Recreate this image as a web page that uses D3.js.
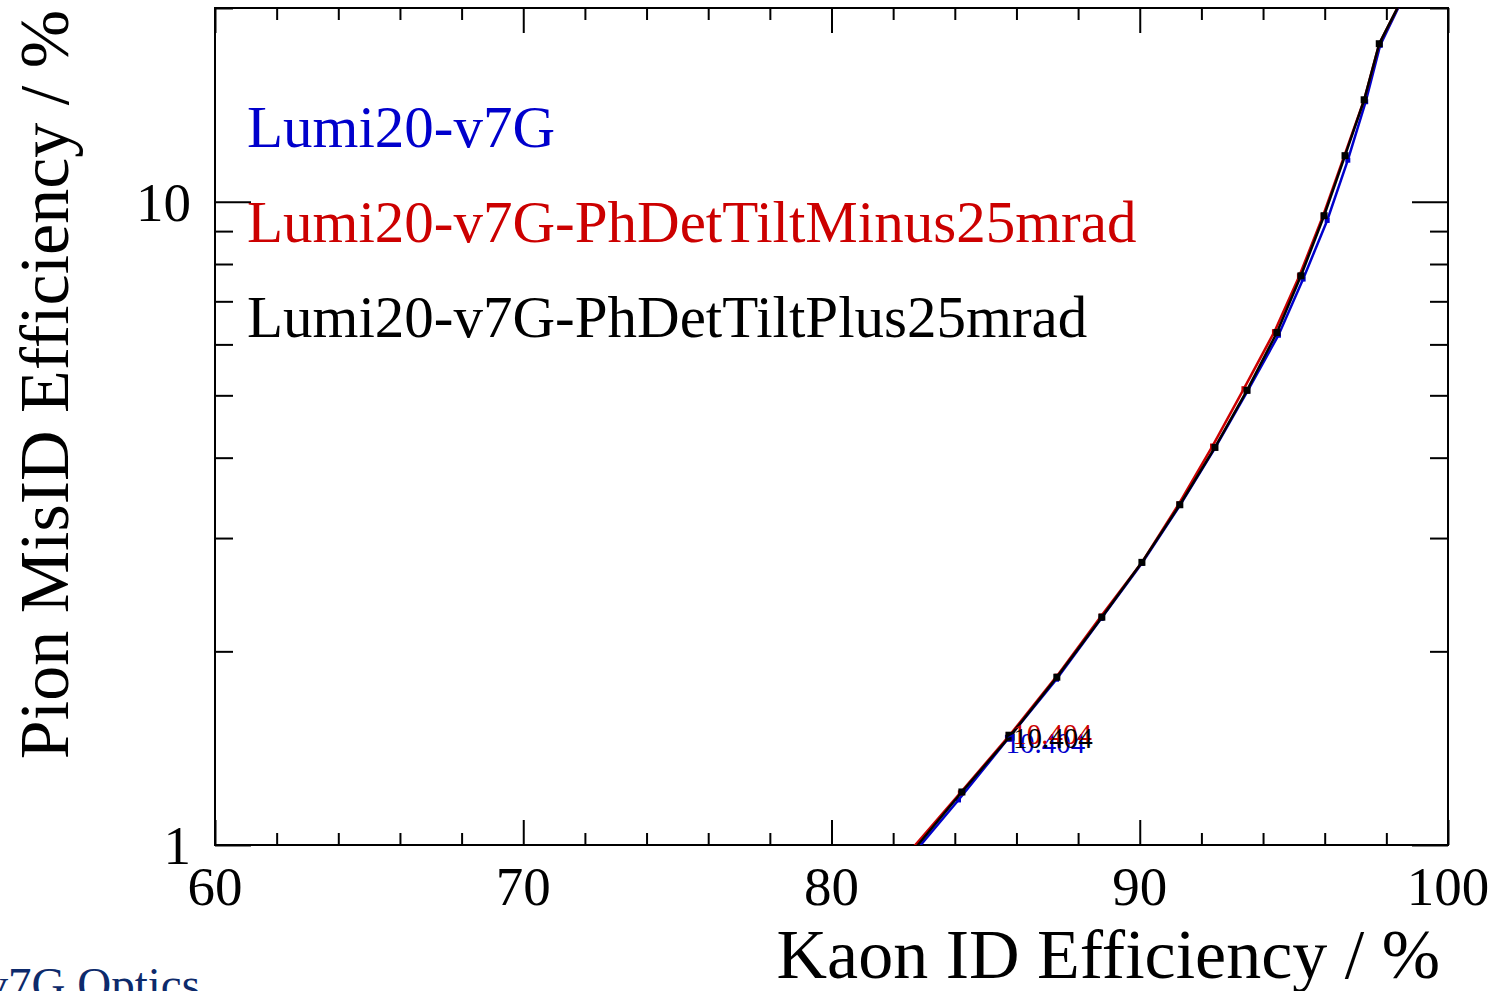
<!DOCTYPE html>
<html>
<head>
<meta charset="utf-8">
<script src="https://cdn.jsdelivr.net/npm/d3@7"></script>
<style>
  body { margin: 0; background: #fff; }
  text { font-family: "Liberation Serif", "Times New Roman", serif; }
</style>
</head>
<body>
<div id="chart"></div>
<script>
var w = 1501, h = 991;
var margin = { top: 8, right: 53, bottom: 146, left: 215 };
var width = w - margin.left - margin.right;
var height = h - margin.top - margin.bottom;

// series names + colours (ROOT kBlue+1, kRed+1, kBlack)
var seriesNames = ["Lumi20-v7G", "Lumi20-v7G-PhDetTiltMinus25mrad", "Lumi20-v7G-PhDetTiltPlus25mrad"];
var seriesColors = ["#0000cc", "#cc0000", "#000000"];

// Kaon ID efficiency (%) per cut point
var kaonBlue  = [81.0, 82.7, 84.12, 85.74, 87.30, 88.75, 90.07, 91.30, 92.44, 93.50, 94.50, 95.30, 96.08, 96.75, 97.33, 97.80, 98.80];
var kaonRed   = [80.85, 82.6, 84.18, 85.77, 87.31, 88.75, 90.07, 91.27, 92.36, 93.38, 94.37, 95.18, 95.95, 96.64, 97.28, 97.77, 98.80];
var kaonBlack = [80.9, 82.65, 84.23, 85.79, 87.31, 88.77, 90.07, 91.30, 92.44, 93.48, 94.45, 95.23, 95.98, 96.66, 97.28, 97.77, 98.80];

// Pion mis-ID efficiency (%) per cut point
var pionBlue  = [0.79, 0.975, 1.175, 1.465, 1.81, 2.25, 2.74, 3.37, 4.14, 5.08, 6.20, 7.58, 9.35, 11.6, 14.3, 17.5, 22.0];
var pionRed   = [0.80, 0.985, 1.205, 1.48, 1.83, 2.27, 2.75, 3.39, 4.17, 5.12, 6.28, 7.67, 9.52, 11.8, 14.4, 17.6, 22.0];
var pionBlack = [0.80, 0.98, 1.209, 1.476, 1.823, 2.26, 2.75, 3.38, 4.15, 5.09, 6.26, 7.67, 9.51, 11.79, 14.4, 17.6, 22.0];

// annotated cut value (index into the arrays above)
var cutLabel = "10.404";
var cutIndex = 3;

// axis ticks
var xTicks = [60, 70, 80, 90, 100];
var yTicks = [1, 10];
var yMinorTicks = [2, 3, 4, 5, 6, 7, 8, 9, 20];

var series = [
  { name: seriesNames[0], color: seriesColors[0], x: kaonBlue,  y: pionBlue,  dx: -3, dy: 15, ms: 5 },
  { name: seriesNames[1], color: seriesColors[1], x: kaonRed,   y: pionRed,   dx: 3,  dy: 9,  ms: 5 },
  { name: seriesNames[2], color: seriesColors[2], x: kaonBlack, y: pionBlack, dx: 3,  dy: 12, ms: 7 }
];

var svg = d3.select("#chart")
  .append("svg")
    .attr("width", w)
    .attr("height", h);

var g = svg.append("g")
  .attr("transform", "translate(" + margin.left + "," + margin.top + ")");

var xScale = d3.scaleLinear().domain([60, 100]).range([0, width]);
var yScale = d3.scaleLog().domain([1, 20]).range([height, 0]);

var xMinor = d3.range(62, 100, 2).filter(function(d) { return d % 10 !== 0; });

// clip for curves
svg.append("defs").append("clipPath").attr("id", "plotclip")
  .append("rect").attr("width", width).attr("height", height);

// ticks on all four sides, pointing inwards (ROOT style)
function styleAxis(sel) {
  sel.select(".domain").remove();
  sel.selectAll("line").attr("stroke", "#000").attr("stroke-width", 2);
}

g.append("g").attr("transform", "translate(0," + height + ")")
  .call(d3.axisBottom(xScale).tickValues(xTicks).tickSize(-25).tickFormat(""))
  .call(styleAxis);
g.append("g").attr("transform", "translate(0," + height + ")")
  .call(d3.axisBottom(xScale).tickValues(xMinor).tickSize(-12).tickFormat(""))
  .call(styleAxis);
g.append("g")
  .call(d3.axisTop(xScale).tickValues(xTicks).tickSize(-25).tickFormat(""))
  .call(styleAxis);
g.append("g")
  .call(d3.axisTop(xScale).tickValues(xMinor).tickSize(-12).tickFormat(""))
  .call(styleAxis);

g.append("g")
  .call(d3.axisLeft(yScale).tickValues(yTicks).tickSize(-36).tickFormat(""))
  .call(styleAxis);
g.append("g")
  .call(d3.axisLeft(yScale).tickValues(yMinorTicks).tickSize(-18).tickFormat(""))
  .call(styleAxis);
g.append("g").attr("transform", "translate(" + width + ",0)")
  .call(d3.axisRight(yScale).tickValues(yTicks).tickSize(-36).tickFormat(""))
  .call(styleAxis);
g.append("g").attr("transform", "translate(" + width + ",0)")
  .call(d3.axisRight(yScale).tickValues(yMinorTicks).tickSize(-18).tickFormat(""))
  .call(styleAxis);

// tick labels
g.selectAll(".xlab").data(xTicks).enter().append("text")
  .attr("x", function(d) { return xScale(d); })
  .attr("y", height + 60)
  .attr("text-anchor", "middle")
  .attr("font-size", 55)
  .text(function(d) { return d; });

g.selectAll(".ylab").data(yTicks).enter().append("text")
  .attr("x", -24)
  .attr("y", function(d) { return yScale(d) + 19; })
  .attr("text-anchor", "end")
  .attr("font-size", 55)
  .text(function(d) { return d; });

// frame
g.append("rect")
  .attr("width", width).attr("height", height)
  .attr("fill", "none").attr("stroke", "#000").attr("stroke-width", 2);

// curves
var line = d3.line()
  .x(function(d) { return xScale(d[0]); })
  .y(function(d) { return yScale(d[1]); });

var plot = g.append("g").attr("clip-path", "url(#plotclip)");

series.forEach(function(s) {
  var pts = s.x.map(function(v, i) { return [v, s.y[i]]; });
  plot.append("path")
    .datum(pts)
    .attr("d", line)
    .attr("fill", "none")
    .attr("stroke", s.color)
    .attr("stroke-width", 2.5);
  plot.selectAll(null)
    .data(pts)
    .enter().append("rect")
    .attr("x", function(d, i) { var m = i === cutIndex ? s.ms + 2 : s.ms; return xScale(d[0]) - m / 2; })
    .attr("y", function(d, i) { var m = i === cutIndex ? s.ms + 2 : s.ms; return yScale(d[1]) - m / 2; })
    .attr("width", function(d, i) { return i === cutIndex ? s.ms + 2 : s.ms; })
    .attr("height", function(d, i) { return i === cutIndex ? s.ms + 2 : s.ms; })
    .attr("fill", s.color);
});

// cut value labels
series.forEach(function(s) {
  g.append("text")
    .attr("x", xScale(s.x[cutIndex]) + s.dx)
    .attr("y", yScale(s.y[cutIndex]) + s.dy)
    .attr("font-size", 29)
    .attr("fill", s.color)
    .text(cutLabel);
});

// legend
series.forEach(function(s, i) {
  g.append("text")
    .attr("x", 32)
    .attr("y", 139 + i * 95)
    .attr("font-size", 59)
    .attr("fill", s.color)
    .text(s.name);
});

// axis titles
svg.append("text")
  .attr("x", 1440)
  .attr("y", 978)
  .attr("text-anchor", "end")
  .attr("font-size", 70)
  .text("Kaon ID Efficiency / %");

svg.append("text")
  .attr("transform", "translate(68,10) rotate(-90)")
  .attr("text-anchor", "end")
  .attr("font-size", 70)
  .text("Pion MisID Efficiency / %");

// footer, clipped by page edge
svg.append("text")
  .attr("x", 200)
  .attr("y", 1000)
  .attr("text-anchor", "end")
  .attr("font-size", 47)
  .attr("fill", "#0d2a6b")
  .text("v7G Optics");
</script>
</body>
</html>
